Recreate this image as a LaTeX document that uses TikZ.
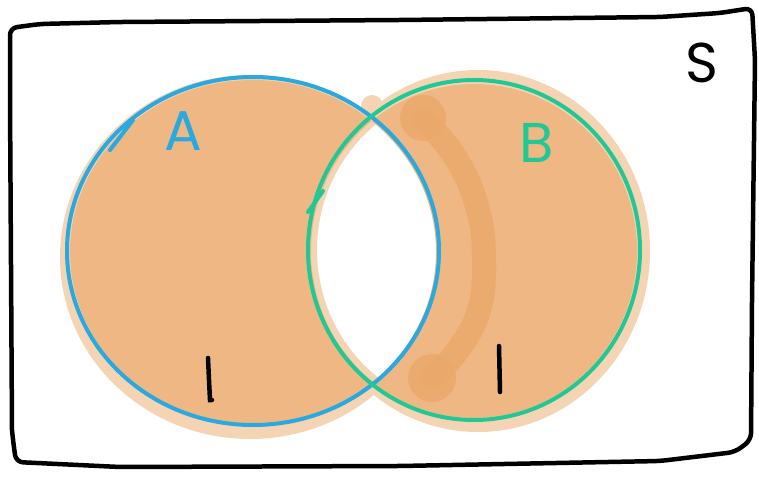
\documentclass[tikz,border=0pt]{standalone}
\usepackage{fontspec}
\setmainfont{Poppins}
\definecolor{fillmain}{HTML}{EEB783}
\definecolor{fillhalo}{HTML}{F5D4B4}
\definecolor{filldark}{HTML}{EBA86A}
\definecolor{setblue}{HTML}{2AA9E0}
\definecolor{setgreen}{HTML}{22C894}
\tikzset{
  frameline/.style={line width=4.5pt, line cap=round, line join=round, rounded corners=7pt},
  setline/.style={line width=4pt},
  label/.style={inner sep=0pt, anchor=base, font=\fontsize{56}{56}\selectfont},
  stroke/.style={line width=4.5pt, line cap=round},
}
\begin{document}
\begin{tikzpicture}[x=1pt,y=-1pt]
\useasboundingbox (0,0) rectangle (759,476);

% light under-wash of both sets
\fill[fillhalo] (250,257) ellipse [x radius=190pt, y radius=182pt];
\fill[fillhalo] (478,251) ellipse [x radius=172pt, y radius=181pt];
\fill[fillhalo] (372,106) circle (11pt);
\fill[fillhalo] (382,366) circle (16pt);

% intersection left blank
\begin{scope}
  \clip (253,251) ellipse [x radius=186pt, y radius=174pt];
  \fill[white] (474,250) ellipse [x radius=166pt, y radius=170pt];
  \draw[fillhalo, line width=18pt] (474,250) ellipse [x radius=166pt, y radius=170pt];
\end{scope}

% symmetric difference
\fill[fillmain, even odd rule]
  (253,252) ellipse [x radius=183pt, y radius=172pt]
  (474,251) ellipse [x radius=163pt, y radius=167pt];

% darker brush stroke inside B
\draw[filldark, line width=24pt, line cap=round, opacity=0.8]
  plot[smooth, tension=0.7] coordinates {(423,118) (457,160) (478,210) (484,260) (479,310) (458,350) (432,378)};
\fill[filldark, opacity=0.8] (423,118) circle (23pt);
\fill[filldark, opacity=0.8] (432,378) circle (24pt);

% set outlines
\draw[setline, setblue] (253,251) ellipse [x radius=186pt, y radius=174pt];
\draw[setline, setgreen] (474,250) ellipse [x radius=166pt, y radius=170pt];
\coordinate (ta1) at (110,150);
\coordinate (ta2) at (133,120);
\draw[setline, setblue, line cap=round] (ta1) -- (ta2);
\coordinate (tb1) at (308,212);
\coordinate (tb2) at (323,191);
\draw[setline, setgreen, line cap=round] (tb1) -- (tb2);

% labels
\node[label, setblue] (la) at (183,150) {A};
\node[label, setgreen] (lb) at (537,162) {B};
\node[label] (ls) at (702,83) {S};

% value strokes in each shaded part
\coordinate (va1) at (208,358);
\coordinate (va2) at (210,400);
\draw[stroke] (va1) .. controls (209,380) .. (va2) -- (212,400);
\coordinate (vb1) at (499,346);
\coordinate (vb2) at (500,392);
\draw[stroke] (vb1) -- (vb2);

% universe frame
\draw[frameline]
  (12,430) -- (10,100) -- (10,28) -- (40,24) -- (120,22) -- (400,20) -- (660,17)
  -- (720,13) -- (752,8) -- (755,60) -- (752,300) -- (751,440) -- (735,452)
  -- (660,461) -- (400,466) -- (120,467) -- (16,462) -- (13,440) -- (12,430);
\end{tikzpicture}
\end{document}
